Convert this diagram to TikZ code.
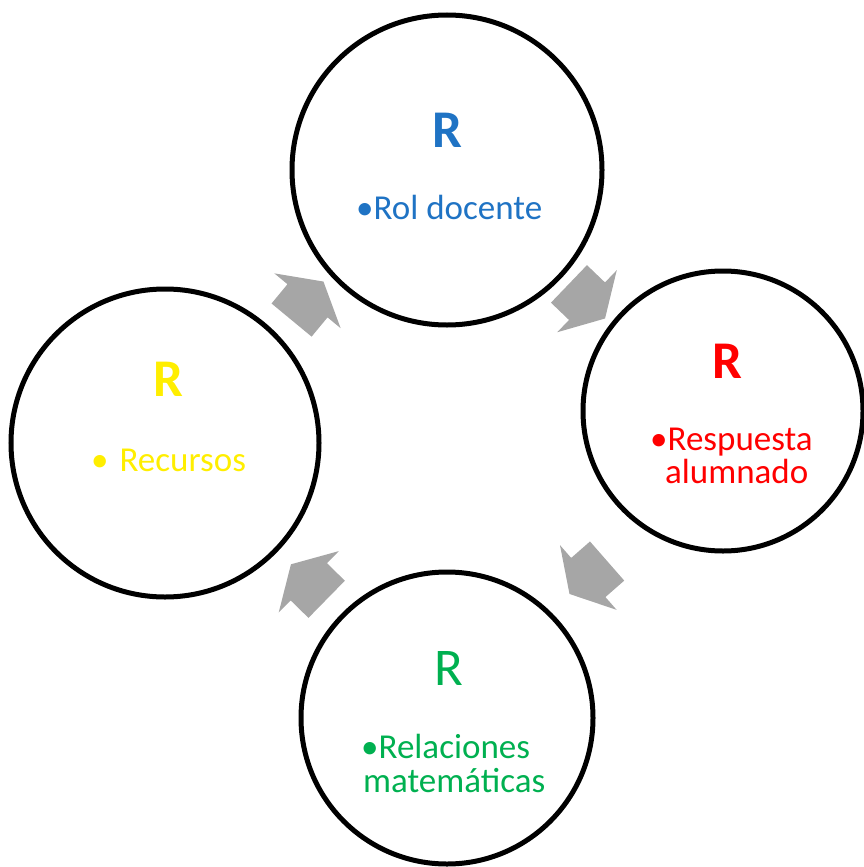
\documentclass[tikz,border=0pt]{standalone}
\usepackage{fontspec}
\setmainfont{Carlito}
\definecolor{cblue}{HTML}{1F73C4}
\definecolor{cred}{HTML}{FF0000}
\definecolor{cyel}{HTML}{FFEE00}
\definecolor{cgreen}{HTML}{00B050}
\definecolor{agray}{HTML}{A6A6A6}
\begin{document}
\begin{tikzpicture}[x=1pt,y=-1pt,
  ring/.style={draw=black,line width=5pt,circle,inner sep=0pt},
  bigR/.style={font=\fontsize{53}{53}\selectfont\bfseries,inner sep=0pt,anchor=base},
  bodytxt/.style={font=\fontsize{35}{35}\selectfont,inner sep=0pt,anchor=base west},
  blockarrow/.style={fill=agray,draw=none}]
\useasboundingbox (0,0) rectangle (864,867);
% circles
\node[ring,minimum size=310pt] (top) at (447,170) {};
\node[ring,minimum size=280pt] (right) at (723,411) {};
\node[ring,minimum size=308pt] (left) at (165,443) {};
\node[ring,minimum size=292pt] (bottom) at (447,718) {};
% texts
\node[bigR,text=cblue] (tR) at (447,147) {R};
\node[bodytxt,text=cblue] (t1) at (356,219) {•Rol docente};
\node[bigR,text=cred] (rR) at (727,378) {R};
\node[bodytxt,text=cred] (r1) at (650,450) {•Respuesta};
\node[bodytxt,text=cred] (r2) at (665,483) {alumnado};
\node[bigR,text=cyel] (lR) at (168,396) {R};
\node[bodytxt,text=cyel] (l1) at (91,471) {•\hspace{3pt} Recursos};
\node[bigR,text=cgreen,font=\fontsize{53}{53}\selectfont] (bR) at (449,685) {R};
\node[bodytxt,text=cgreen] (b1) at (361,758) {•Relaciones};
\node[bodytxt,text=cgreen] (b2) at (363,792) {matemáticas};
% block arrows
\newcommand{\blockarr}[3]{%
  \path[blockarrow,shift={(#1,#2)},rotate=#3]
    (-25,26) -- (0,26) -- (0,43) -- (25,0) -- (0,-43) -- (0,-26) -- (-25,-26) -- cycle;}
\blockarr{307.5}{300.8}{50.4}
\blockarr{587}{301.2}{-43.8}
\blockarr{588.3}{577.5}{-138.8}
\blockarr{308.8}{581.8}{135.6}
\end{tikzpicture}
\end{document}
